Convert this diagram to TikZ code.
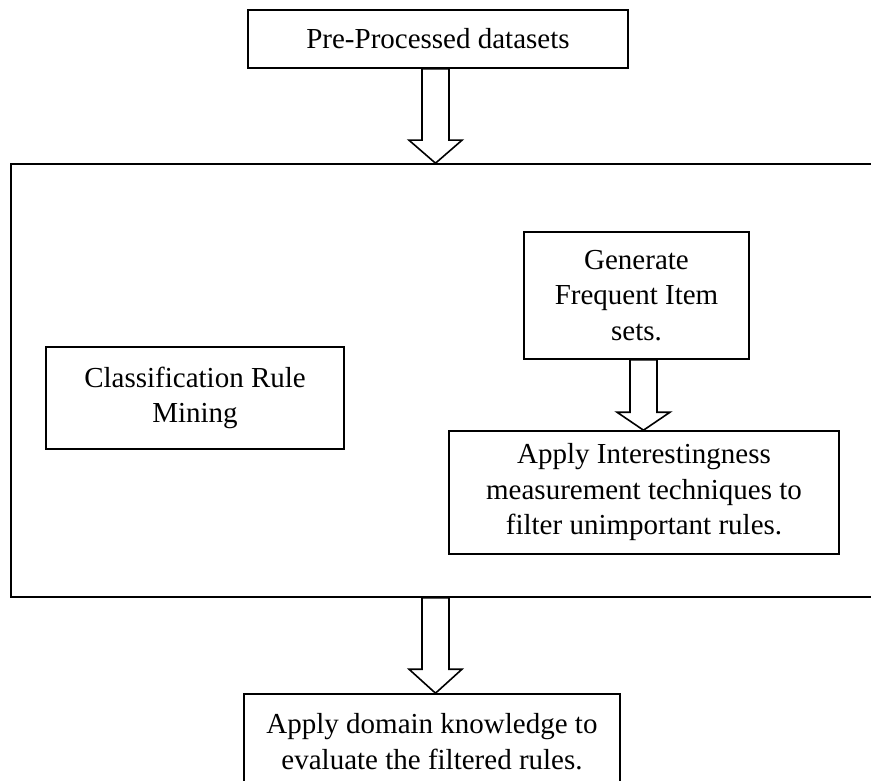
\documentclass[tikz,border=0pt]{standalone}
\usepackage{fontspec}
\setmainfont{Liberation Serif}
\usetikzlibrary{calc}

% hollow block arrow from the bottom of one box to the top of another
% #1 column coordinate, #2 source node, #3 target node, #4 head length (pt)
\newcommand{\blockarrow}[4]{%
  \draw[blockline] let \p1=(#1 |- #2.south), \p2=(#1 |- #3.north) in
    (\x1-13.5pt,\y1) -- (\x1-13.5pt,\y2+#4pt) -- (\x1-26.5pt,\y2+#4pt)
    -- (\x1,\y2) -- (\x1+26.5pt,\y2+#4pt) -- (\x1+13.5pt,\y2+#4pt)
    -- (\x1+13.5pt,\y1) -- cycle;}

\tikzset{
  box/.style={draw, line width=1.6pt, fill=white, inner sep=0pt,
    align=center, font=\fontsize{29}{35.5}\selectfont},
  frame/.style={draw, line width=1.6pt, inner sep=0pt},
  blockline/.style={draw, line width=1.6pt, fill=white, line join=miter},
}

\begin{document}
\begin{tikzpicture}[x=1pt,y=-1pt]
  \useasboundingbox (0,0) rectangle (871,781);
  \fill[white] (0,0) rectangle (871,781);
  \clip (0,0) rectangle (871,781);

  % outer frame holding the rule mining steps (runs off the right edge)
  \node[frame, minimum width=874pt, minimum height=433pt] (stage) at (448,380.5) {};

  \node[box, minimum width=380pt, minimum height=58pt] (data) at (438,39)
    {Pre-Processed datasets};
  \node[box, minimum width=298pt, minimum height=102pt] (crm) at (195,398)
    {Classification Rule\\Mining};
  \node[box, minimum width=225pt, minimum height=127pt] (freq) at (636.5,295.5)
    {Generate\\Frequent Item\\sets.};
  \node[box, minimum width=390pt, minimum height=123pt] (interest) at (644,492.5)
    {Apply Interestingness\\measurement techniques to\\filter unimportant rules.};
  \node[box, minimum width=376pt, minimum height=95pt] (domain) at (432,741.5)
    {Apply domain knowledge to\\evaluate the filtered rules.};

  \coordinate (colA) at (435.5,0);
  \coordinate (colB) at (643.5,0);

  \blockarrow{colA}{data}{stage}{23}
  \blockarrow{colB}{freq}{interest}{18}
  \blockarrow{colA}{stage}{domain}{24}
\end{tikzpicture}
\end{document}
